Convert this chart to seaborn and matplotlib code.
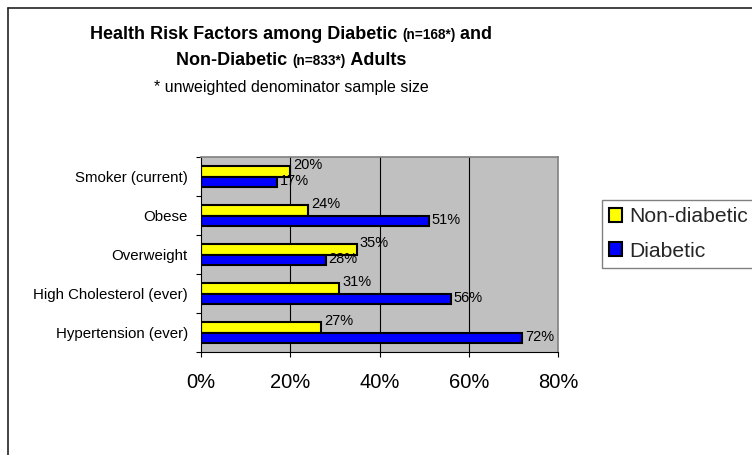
import numpy as np
import pandas as pd
import matplotlib
matplotlib.use("Agg")
import matplotlib.pyplot as plt
from matplotlib.lines import Line2D
from matplotlib import font_manager
import seaborn as sns

# data
factors = ["Smoker (current)", "Obese", "Overweight",
           "High Cholesterol (ever)", "Hypertension (ever)"]
non_diabetic = [20, 24, 35, 31, 27]
diabetic = [17, 51, 28, 56, 72]
groups = ["Non-diabetic", "Diabetic"]
x_ticks = [0, 20, 40, 60, 80]

W, H = 752, 455

sns.set_theme(style="ticks")
plt.rcParams["font.family"] = ["Liberation Sans", "DejaVu Sans"]

# the title in the reference uses a condensed face
installed = {f.name for f in font_manager.fontManager.ttflist}
if "Liberation Sans Narrow" in installed:
    title_family, title_big, title_small = "Liberation Sans Narrow", 15.5, 11.5
else:
    title_family, title_big, title_small = "Liberation Sans", 13.0, 9.8

df = pd.DataFrame({
    "factor": factors * 2,
    "pct": non_diabetic + diabetic,
    "group": [groups[0]] * len(factors) + [groups[1]] * len(factors),
})

fig = plt.figure(figsize=(W / 100, H / 100), dpi=100, facecolor="white")
ax = fig.add_axes([201 / W, 1 - 352 / H, 357 / W, 195 / H])
ax.set_facecolor("#C0C0C0")

sns.barplot(data=df, y="factor", x="pct", hue="group", hue_order=groups,
            order=factors, palette={"Non-diabetic": "#FFFF00", "Diabetic": "#0000FF"},
            width=0.56, edgecolor="black", linewidth=1.5, saturation=1,
            orient="h", ax=ax)

handles, labels = ax.get_legend_handles_labels()
if ax.get_legend() is not None:
    ax.get_legend().remove()

# value labels, nudged up a little like the Excel original (offsets in points)
for i, cont in enumerate(ax.containers):
    txts = ax.bar_label(cont, labels=[f"{v:.0f}%" for v in cont.datavalues],
                        padding=2, fontsize=10.5, color="black")
    for t in txts:
        t.set_y(t.get_position()[1] + (4.0 if i == 0 else 1.0))

ax.set_xlim(0, 80)
ax.set_ylim(len(factors) - 0.5, -0.5)
ax.set_xticks(x_ticks)
ax.set_xticklabels([f"{t}%" for t in x_ticks])
ax.set_xlabel("")
ax.set_ylabel("")

# gridlines
for t in x_ticks[1:-1]:
    ax.axvline(t, color="black", lw=0.8, zorder=0.5)

ax.set_yticks(np.arange(len(factors)), minor=False)
ax.set_yticks(np.arange(len(factors) + 1) - 0.5, minor=True)
ax.tick_params(axis="y", which="major", length=0, pad=9.5, labelsize=10.8, colors="black")
ax.tick_params(axis="y", which="minor", length=3.6, width=0.8, color="black", direction="out")
ax.tick_params(axis="x", which="major", length=3.6, width=0.8, pad=11.5, labelsize=14.5,
               color="black", labelcolor="black", direction="out")

for side in ["left", "bottom"]:
    ax.spines[side].set_color("black")
    ax.spines[side].set_linewidth(0.8)
for side in ["top", "right"]:
    ax.spines[side].set_visible(True)
    ax.spines[side].set_color("#808080")
    ax.spines[side].set_linewidth(1.2)

# legend (runs off the right edge like the cropped original)
fig.legend(handles, labels, loc="upper left", bbox_to_anchor=(602 / W, 1 - 200 / H),
           fontsize=15.2, frameon=True, fancybox=False, framealpha=1,
           edgecolor="#808080", handlelength=0.62, handleheight=0.62,
           handletextpad=0.3, borderpad=0.35, labelspacing=0.72, borderaxespad=0)

# outer chart frame: only top and left edges are inside the crop
fig.add_artist(Line2D([8 / W, 1.0], [1 - 8 / H, 1 - 8 / H], transform=fig.transFigure,
                      color="#222222", lw=1.2))
fig.add_artist(Line2D([8 / W, 8 / W], [0.0, 1 - 8 / H], transform=fig.transFigure,
                      color="#222222", lw=1.2))

# title with mixed font sizes
renderer = fig.canvas.get_renderer()


def rich_line(pieces, y_px, cx_px, family):
    texts = []
    for s, size, weight in pieces:
        texts.append(fig.text(0, 1 - y_px / H, s, fontsize=size, fontweight=weight,
                              family=[family, "DejaVu Sans"],
                              va="baseline", ha="left", color="black"))
    widths = [t.get_window_extent(renderer).width for t in texts]
    x = cx_px - sum(widths) / 2
    for t, w in zip(texts, widths):
        t.set_x(x / W)
        x += w


rich_line([("Health Risk Factors among Diabetic ", title_big, "bold"),
           ("(n=168*)", title_small, "bold"),
           (" and", title_big, "bold")], 39, 291, title_family)
rich_line([("Non-Diabetic ", title_big, "bold"),
           ("(n=833*)", title_small, "bold"),
           (" Adults", title_big, "bold")], 65, 291, title_family)
rich_line([("* unweighted denominator sample size", 11.5, "normal")], 92, 291,
          "Liberation Sans")

fig.savefig("out.png", dpi=100, facecolor="white")
